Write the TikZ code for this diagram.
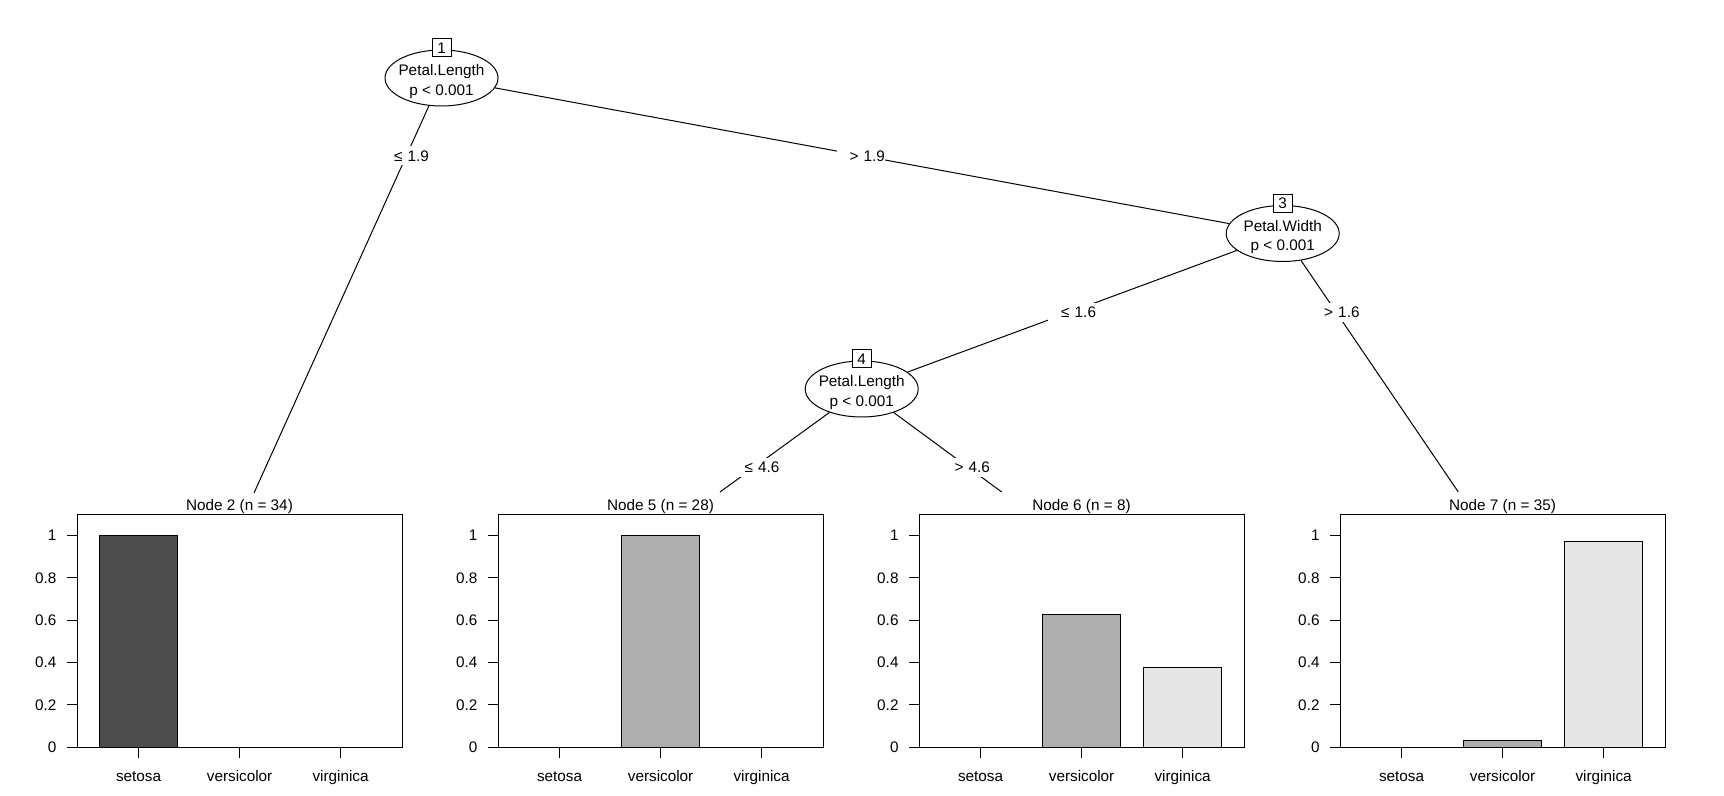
\documentclass[tikz,border=0pt]{standalone}
\usepackage{fontspec}
\setmainfont{Liberation Sans}
\usepackage{xcolor}
\usetikzlibrary{shapes.geometric, positioning}

\definecolor{setosagray}{HTML}{4D4D4D}
\definecolor{versigray}{HTML}{AEAEAE}
\definecolor{virgigray}{HTML}{E6E6E6}

\begin{document}
\begin{tikzpicture}[x=0.5pt, y=-0.5pt, line width=0.5pt,
    every node/.style={font=\fontsize{7.65}{9.65}\selectfont, inner sep=0pt},
    split/.style={draw, ellipse, fill=white, minimum width=56.5pt, minimum height=28pt},
    idbox/.style={draw, fill=white, minimum width=9.5pt, minimum height=9pt},
    edgelab/.style={fill=white, text width=24pt, align=right, minimum height=9.5pt}]
    \useasboundingbox (0,0) rectangle (1724,796);

    % 1. Inner nodes (ellipses) with their split variable
    \node[split] (n1) at (441.5, 78) {};
    \node[split] (n3) at (1282.7, 233.5) {};
    \node[split] (n4) at (861.7, 389) {};
    \node[align=center] (n1txt) at (441.5, 81.5) {Petal.Length\\p < 0.001};
    \node[align=center] (n3txt) at (1282.7, 237) {Petal.Width\\p < 0.001};
    \node[align=center] (n4txt) at (861.7, 392.5) {Petal.Length\\p < 0.001};

    % 2. Free ends of the edges, at the top of each terminal panel
    \coordinate (t2) at (254, 493);
    \coordinate (t5) at (720, 492);
    \coordinate (t6) at (1001.7, 492);
    \coordinate (t7) at (1458.3, 492);

    % 3. Edges and their split labels
    \draw (n1) -- (t2);
    \draw (n1) -- (n3);
    \draw (n3) -- (n4);
    \draw (n3) -- (t7);
    \draw (n4) -- (t5);
    \draw (n4) -- (t6);
    \node[edgelab] (e12) at (405, 156) {≤ 1.9};
    \node[edgelab] (e13) at (861, 156) {> 1.9};
    \node[edgelab] (e34) at (1072, 312.5) {≤ 1.6};
    \node[edgelab] (e37) at (1335.5, 312.5) {> 1.6};
    \node[edgelab] (e45) at (755.5, 467.5) {≤ 4.6};
    \node[edgelab] (e46) at (966, 467.5) {> 4.6};

    % 4. Node numbers in small boxes on top of the ellipses
    \node[idbox] (id1) at (441.5, 48) {1};
    \node[idbox] (id3) at (1282.7, 203.5) {3};
    \node[idbox] (id4) at (861.7, 359) {4};

    % 5. Terminal bar plots: left edge / node / n / setosa / versicolor / virginica
    \foreach \L/\k/\n/\va/\vb/\vc in {77/2/34/1/0/0, 498/5/28/0/1/0,
                                      919/6/8/0/0.625/0.375, 1340/7/35/0/0.0286/0.9714} {
        \node[anchor=base] (title\k) at (\L+162.5, 510.7) {Node \k\ (n = \n)};
        \draw[fill=setosagray] (\L+22.95, 747) rectangle ++(77.3, -211.3*\va);
        \draw[fill=versigray] (\L+123.95, 747) rectangle ++(77.3, -211.3*\vb);
        \draw[fill=virgigray] (\L+224.95, 747) rectangle ++(77.3, -211.3*\vc);
        \draw (\L, 514) rectangle ++(325, 233);
        % y axis
        \foreach \v [count=\i] in {0, 0.2, 0.4, 0.6, 0.8, 1} {
            \draw (\L, 747-211.3*\v) -- ++(-10, 0);
            \node[anchor=east] (yl\k\i) at (\L-20, 747-211.3*\v) {\v};
        }
        % x axis
        \foreach \c [count=\i] in {setosa, versicolor, virginica} {
            \draw (\L+61.6+101*\i-101, 747) -- ++(0, 10.7);
            \node[anchor=base] (xl\k\i) at (\L+61.6+101*\i-101, 781) {\c};
        }
    }
\end{tikzpicture}
\end{document}
